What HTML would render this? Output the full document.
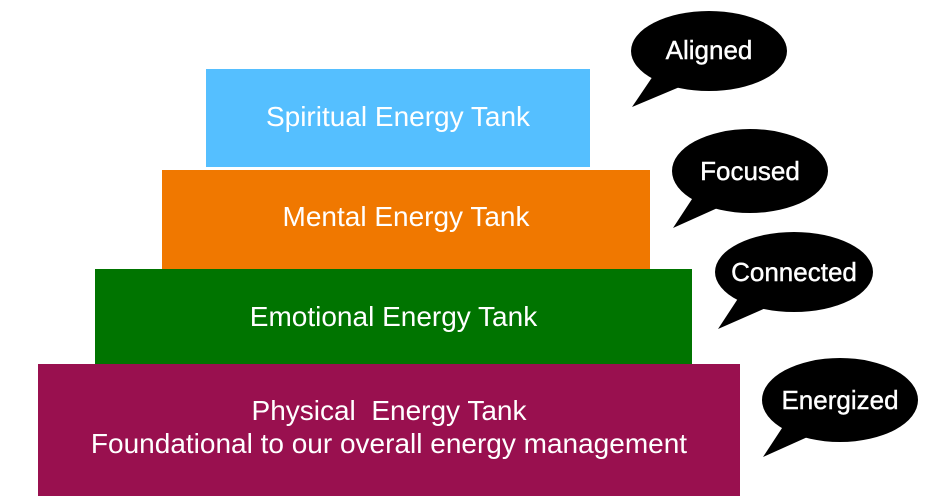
<!DOCTYPE html>
<html><head><style>
body{margin:0;width:934px;height:500px;background:#fff;overflow:hidden;position:relative;font-family:"Liberation Sans",sans-serif}
.r{position:absolute;color:#fff;font-size:28px;text-align:center;display:flex;align-items:center;justify-content:center;line-height:33px}
</style></head><body>
<div class="r" style="left:206px;top:69px;width:384px;height:98px;background:#55bfff;padding-bottom:4px;box-sizing:border-box">Spiritual Energy Tank</div>
<div class="r" style="left:162px;top:170px;width:488px;height:99px;background:#f07800;padding-bottom:6px;box-sizing:border-box">Mental Energy Tank</div>
<div class="r" style="left:95px;top:269px;width:597px;height:97px;background:#007400;padding-bottom:2px;box-sizing:border-box">Emotional Energy Tank</div>
<div class="r" style="left:38px;top:364px;width:702px;height:132px;background:#99104f;padding-bottom:6px;box-sizing:border-box">Physical&nbsp; Energy Tank<br>Foundational to our overall energy management</div>
<svg width="934" height="500" style="position:absolute;left:0;top:0" font-family="Liberation Sans, sans-serif" font-size="26" fill="#fff" stroke="#fff" stroke-width="0.4">
<g fill="#000" stroke="none">
<ellipse cx="709" cy="51" rx="78" ry="40"/><polygon points="653,76 632,107 682,86"/>
<ellipse cx="750" cy="171" rx="78" ry="42"/><polygon points="694,196 673,228 722,206"/>
<ellipse cx="794" cy="272" rx="79" ry="40"/><polygon points="739,297 718,329 768,307"/>
<ellipse cx="840" cy="400" rx="78" ry="42"/><polygon points="784,425 763,457 812,435"/>
</g>
<text x="709" y="59" text-anchor="middle">Aligned</text>
<text x="750" y="180" text-anchor="middle">Focused</text>
<text x="794" y="281" text-anchor="middle">Connected</text>
<text x="840" y="409" text-anchor="middle">Energized</text>
</svg>
</body></html>
